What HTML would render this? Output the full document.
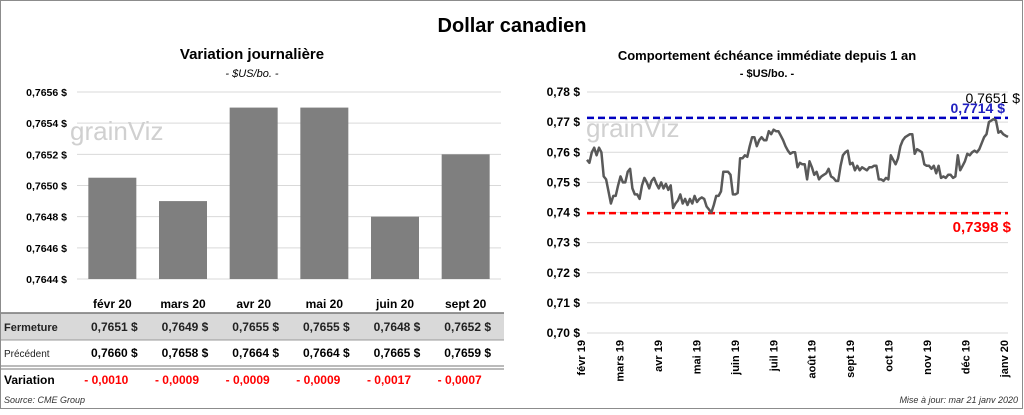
<!DOCTYPE html>
<html><head><meta charset="utf-8"><style>
body{margin:0;background:#fff;font-family:"Liberation Sans",sans-serif}
svg text{font-family:"Liberation Sans",sans-serif}
</style></head><body>
<svg id="s" width="1024" height="410" viewBox="0 0 1024 410" xmlns="http://www.w3.org/2000/svg">
<rect x="0.5" y="0.5" width="1022" height="408" fill="#fff" stroke="#8c8c8c"/>
<text x="512" y="32" text-anchor="middle" font-size="20" font-weight="bold">Dollar canadien</text>
<text x="252" y="59" text-anchor="middle" font-size="15" font-weight="bold">Variation  journalière</text>
<text x="252" y="77" text-anchor="middle" font-size="11" font-style="italic">- $US/bo. -</text>
<text x="767" y="60" text-anchor="middle" font-size="13" font-weight="bold">Comportement échéance immédiate depuis 1 an</text>
<text x="767" y="77" text-anchor="middle" font-size="11" font-weight="bold">- $US/bo. -</text>
<g>
<rect x="1" y="313" width="503" height="27" fill="#d9d9d9"/>
<line x1="1" y1="313" x2="504" y2="313" stroke="#777" stroke-width="1.5"/>
<line x1="1" y1="340" x2="504" y2="340" stroke="#999"/>
<line x1="1" y1="366" x2="504" y2="366" stroke="#777"/>
<line x1="1" y1="369" x2="504" y2="369" stroke="#777"/>
<text x="4" y="331" font-size="11" fill="#222" font-weight="bold">Fermeture</text>
<text x="4" y="357" font-size="10" fill="#222">Précédent</text>
<text x="4" y="384" font-size="12" font-weight="bold">Variation</text>
<text x="4" y="403" font-size="9" font-style="italic" fill="#333">Source: CME Group</text>
</g>
<g id="left"></g><g id="right"></g>
<text x="1018" y="403" text-anchor="end" font-size="9" font-style="italic" fill="#333">Mise à jour: mar 21 janv 2020</text>
</svg>
<script>
const months=["févr 20","mars 20","avr 20","mai 20","juin 20","sept 20"];
const closes=[0.76505,0.7649,0.7655,0.7655,0.7648,0.7652];
const closeTxt=["0,7651","0,7649","0,7655","0,7655","0,7648","0,7652"];
const prevTxt=["0,7660","0,7658","0,7664","0,7664","0,7665","0,7659"];
const varTxt=["- 0,0010","- 0,0009","- 0,0009","- 0,0009","- 0,0017","- 0,0007"];
const leftTicks=[0.7644,0.7646,0.7648,0.7650,0.7652,0.7654,0.7656];
const rightTicks=[0.70,0.71,0.72,0.73,0.74,0.75,0.76,0.77,0.78];
const xLabels=["févr 19","mars 19","avr 19","mai 19","juin 19","juil 19","août 19","sept 19","oct 19","nov 19","déc 19","janv 20"];
const hiVal=0.7714, loVal=0.7398, lastVal=0.7651;
const series=[0.7575,0.7565,0.760,0.7615,0.759,0.7615,0.760,0.752,0.751,0.747,0.743,0.7455,0.7455,0.749,0.752,0.750,0.750,0.7535,0.7545,0.748,0.746,0.746,0.7445,0.749,0.7515,0.750,0.748,0.7505,0.7515,0.7495,0.748,0.750,0.748,0.7495,0.7475,0.749,0.7415,0.743,0.744,0.746,0.743,0.7445,0.7425,0.7445,0.743,0.7455,0.7435,0.7445,0.745,0.7445,0.742,0.741,0.740,0.7425,0.7455,0.7455,0.747,0.7535,0.7535,0.7535,0.7525,0.746,0.746,0.7465,0.758,0.758,0.759,0.7585,0.762,0.765,0.765,0.762,0.764,0.765,0.764,0.764,0.767,0.766,0.7675,0.767,0.767,0.7655,0.764,0.762,0.7605,0.7595,0.760,0.760,0.755,0.7565,0.756,0.756,0.751,0.757,0.755,0.7525,0.7535,0.751,0.752,0.7525,0.753,0.7545,0.752,0.7515,0.7505,0.7505,0.7555,0.759,0.760,0.7605,0.756,0.7565,0.754,0.7555,0.754,0.755,0.7545,0.754,0.755,0.755,0.7555,0.7555,0.751,0.751,0.7505,0.7515,0.751,0.759,0.7575,0.756,0.758,0.762,0.764,0.765,0.7655,0.766,0.766,0.7595,0.761,0.7605,0.760,0.756,0.7555,0.7555,0.7545,0.7555,0.753,0.7555,0.7515,0.752,0.7515,0.7525,0.7525,0.7515,0.752,0.759,0.754,0.7555,0.757,0.7595,0.759,0.760,0.7605,0.760,0.761,0.763,0.765,0.766,0.770,0.7705,0.771,0.7705,0.7665,0.767,0.766,0.7655,0.7651];
const NS="http://www.w3.org/2000/svg";
function mk(tag,attrs,parent,txt){const e=document.createElementNS(NS,tag);for(const k in attrs)e.setAttribute(k,attrs[k]);if(txt!==undefined)e.textContent=txt;parent.appendChild(e);return e;}
const L=document.getElementById('left');
const lx0=77,lx1=501,ly=v=>279-(v-0.7644)/0.0012*187;
const cw=(lx1-lx0)/months.length;
leftTicks.forEach(t=>{
 const g=mk('line',{x1:lx0,x2:lx1,y1:ly(t),y2:ly(t),stroke:'#d9d9d9'},L);
 
 
 const tx=mk('text',{x:67,y:ly(t)+4,'text-anchor':'end','font-size':10.5,'font-weight':'bold'},L,t.toFixed(4).replace('.',',')+' $');
 
 
});
const wm1=mk('text',{x:70,y:140,'font-size':26,fill:'#d0d0d0'},L,'grainViz');


months.forEach((m,i)=>{
 const cx=lx0+cw*(i+0.5);
 const b=mk('rect',{x:cx-24,y:ly(closes[i]),width:48,height:279-ly(closes[i]),fill:'#7f7f7f'},L);
 
 
 const h=mk('text',{x:cx,y:308,'text-anchor':'middle','font-size':12,'font-weight':'bold'},L,m);
 
 
 const a=mk('text',{x:cx+2,y:331,'text-anchor':'middle','font-size':12,'font-weight':'bold',fill:'#222'},L,closeTxt[i]+'  $');
 
 
 const p=mk('text',{x:cx+2,y:357,'text-anchor':'middle','font-size':12,'font-weight':'bold'},L,prevTxt[i]+'  $');
 
 
 const v=mk('text',{x:cx-6,y:384,'text-anchor':'middle','font-size':12,'font-weight':'bold',fill:'#ff0000'},L,varTxt[i]);
 
 
});
const R=document.getElementById('right');
const rx0=587,rx1=1008,ry=v=>92+(0.78-v)/0.08*241;
rightTicks.forEach(t=>{
 const g=mk('line',{x1:rx0,x2:rx1,y1:ry(t),y2:ry(t),stroke:'#d9d9d9'},R);
 
 
 const tx=mk('text',{x:580,y:ry(t)+4,'text-anchor':'end','font-size':12,'font-weight':'bold'},R,t.toFixed(2).replace('.',',')+' $');
 
 
});
const wm2=mk('text',{x:586,y:137,'font-size':26,fill:'#d0d0d0'},R,'grainViz');


xLabels.forEach((l,i)=>{
 const x=rx0-6+i*(1004-581)/11;
 const t=mk('text',{x:0,y:0,'text-anchor':'end','font-size':11,'font-weight':'bold',transform:`translate(${x+4},340) rotate(-90)`},R,l);
 
 
});
const hl=mk('line',{x1:rx0,x2:rx1,y1:ry(hiVal),y2:ry(hiVal),stroke:'#0000c0','stroke-width':2.5,'stroke-dasharray':'7,4'},R);


const ll=mk('line',{x1:rx0,x2:rx1,y1:ry(loVal),y2:ry(loVal),stroke:'#ff0000','stroke-width':2.5,'stroke-dasharray':'7,4'},R);


const n=series.length;
const sx=i=>rx0+i*(rx1-rx0)/(n-1);
const pts=series.map((v,i)=>sx(i).toFixed(1)+','+ry(v).toFixed(1)).join(' ');
const pl=mk('polyline',{points:pts,fill:'none',stroke:'#595959','stroke-width':2.5,'stroke-linejoin':'round'},R);


const t1=mk('text',{x:1020,y:103,'text-anchor':'end','font-size':14},R,lastVal.toFixed(4).replace('.',',')+' $');


const t2=mk('text',{x:1005,y:113,'text-anchor':'end','font-size':14,'font-weight':'bold',fill:'#2020c0'},R,hiVal.toFixed(4).replace('.',',')+' $');


const t3=mk('text',{x:1011,y:232,'text-anchor':'end','font-size':15,'font-weight':'bold',fill:'#ff0000'},R,loVal.toFixed(4).replace('.',',')+' $');


</script>
</body></html>
